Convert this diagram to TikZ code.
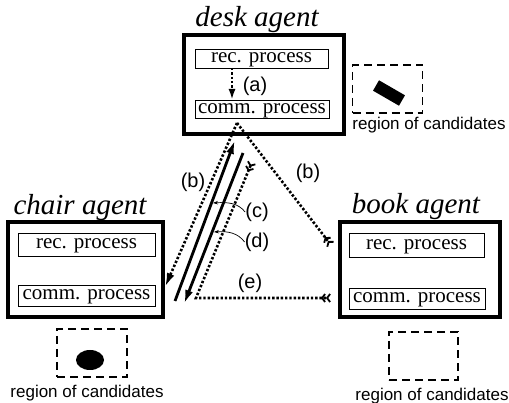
\documentclass[tikz,border=0pt]{standalone}
\usepackage{fontspec}
\setmainfont{Liberation Serif}
\setsansfont{Liberation Sans}
\usetikzlibrary{arrows.meta,shapes,positioning}

\begin{document}
\begin{tikzpicture}[x=1pt,y=-1pt,
      agent/.style={draw,line width=3.4pt,inner sep=0pt},
      proc/.style={draw,line width=0.9pt,inner sep=0pt,font=\fontsize{21}{22}\selectfont,text height=13pt,text depth=4pt},
      title/.style={font=\fontsize{29}{30}\selectfont\itshape,inner sep=0pt},
      lbl/.style={font=\sffamily\fontsize{20}{22}\selectfont,inner sep=0pt},
      region/.style={draw,dash pattern=on 8pt off 5pt,line width=1.7pt,inner sep=0pt},
      cand/.style={font=\sffamily\fontsize{17}{18}\selectfont,inner sep=0pt},
      msg/.style={line width=2.6pt,dash pattern=on 2.4pt off 1.9pt},
      tip/.style={-{Latex[length=14pt,width=8pt]}},
      fthr/.style={-{Straight Barb[reversed,length=3pt,width=8pt,line width=1.8pt]Straight Barb[reversed,length=3pt,width=8pt,line width=1.8pt]}},
      fthrs/.style={{Straight Barb[reversed,length=3pt,width=8pt,line width=1.8pt]Straight Barb[reversed,length=3pt,width=8pt,line width=1.8pt]}-{Straight Barb[reversed,length=3pt,width=8pt,line width=1.8pt]Straight Barb[reversed,length=3pt,width=8pt,line width=1.8pt]}}
      ]
      \useasboundingbox (0,0) rectangle (509,403);

      % desk agent
      \node[agent,minimum width=160pt,minimum height=99pt] (D) at (264,84.5) {};
      \node[title] (Dt) at (257,20) {desk agent};
      \node[proc,minimum width=133pt,minimum height=19pt] (DR) at (261.5,58.5) {rec. process};
      \node[proc,minimum width=134pt,minimum height=18pt] (DC) at (262,109) {comm. process};
      \node[region,minimum width=70pt,minimum height=48pt] (DG) at (387.5,89) {};
      \node[fill,rotate=-30,minimum width=30pt,minimum height=12pt,inner sep=0pt] (DO) at (389,93) {};
      \node[cand] (DL) at (429,125) {region of candidates};

      % chair agent
      \node[agent,minimum width=155pt,minimum height=95pt] (C) at (85.5,269.5) {};
      \node[title] (Ct) at (80,208) {chair agent};
      \node[proc,minimum width=137pt,minimum height=23pt] (CR) at (86.5,244.5) {rec. process};
      \node[proc,minimum width=137pt,minimum height=21pt] (CC) at (86.5,295.5) {comm. process};
      \node[region,minimum width=70pt,minimum height=48pt] (CG) at (92,353) {};
      \node[fill,ellipse,minimum width=28pt,minimum height=20pt,inner sep=0pt] (CO) at (90,360) {};
      \node[cand] (CL) at (87,393) {region of candidates};

      % book agent
      \node[agent,minimum width=160pt,minimum height=95pt] (B) at (420,269.5) {};
      \node[title] (Bt) at (416,207) {book agent};
      \node[proc,minimum width=135pt,minimum height=24pt] (BR) at (416.5,245) {rec. process};
      \node[proc,minimum width=136pt,minimum height=21pt] (BC) at (417,298.5) {comm. process};
      \node[region,minimum width=69pt,minimum height=48pt] (BG) at (423.5,356) {};
      \node[cand] (BL) at (432,396) {region of candidates};

      % message end points
      \coordinate (A1) at (232,68);
      \coordinate (A2) at (232,100);
      \coordinate (P) at (237,123);
      \coordinate (Bc) at (165,287);
      \coordinate (Bb) at (331,245);
      \coordinate (C1) at (175,301);
      \coordinate (C2) at (235,140);
      \coordinate (D1) at (243,153);
      \coordinate (D2) at (184,304);
      \coordinate (E1) at (252,162);
      \coordinate (E2) at (196,298);
      \coordinate (E3) at (331,298);

      \draw[msg,-{Latex[length=11pt,width=7pt]}] (A1) -- (A2);
      \draw[msg,tip] (P) -- (Bc);
      \draw[msg,fthr] (P) -- (Bb);
      \draw[line width=2.8pt,tip] (C1) -- (C2);
      \draw[line width=2.8pt,tip] (D1) -- (D2);
      \draw[msg,fthrs] (E1) -- (E2) -- (E3);

      % labels
      \node[lbl] (La) at (255,86) {(a)};
      \node[lbl] (Lb1) at (193,182) {(b)};
      \node[lbl] (Lb2) at (308,173) {(b)};
      \node[lbl] (Lc) at (257,212) {(c)};
      \node[lbl] (Ld) at (257,242) {(d)};
      \node[lbl] (Le) at (250,283) {(e)};
      \coordinate (Pc) at (213,203);
      \coordinate (Pd) at (214,232);
      \draw[line width=0.7pt,-{Stealth[length=5pt,width=3.5pt]}] (Lc.west) .. controls (238,203) and (228,202) .. (Pc);
      \draw[line width=0.7pt,-{Stealth[length=5pt,width=3.5pt]}] (Ld.west) .. controls (238,233) and (228,231) .. (Pd);
    \end{tikzpicture}
\end{document}
